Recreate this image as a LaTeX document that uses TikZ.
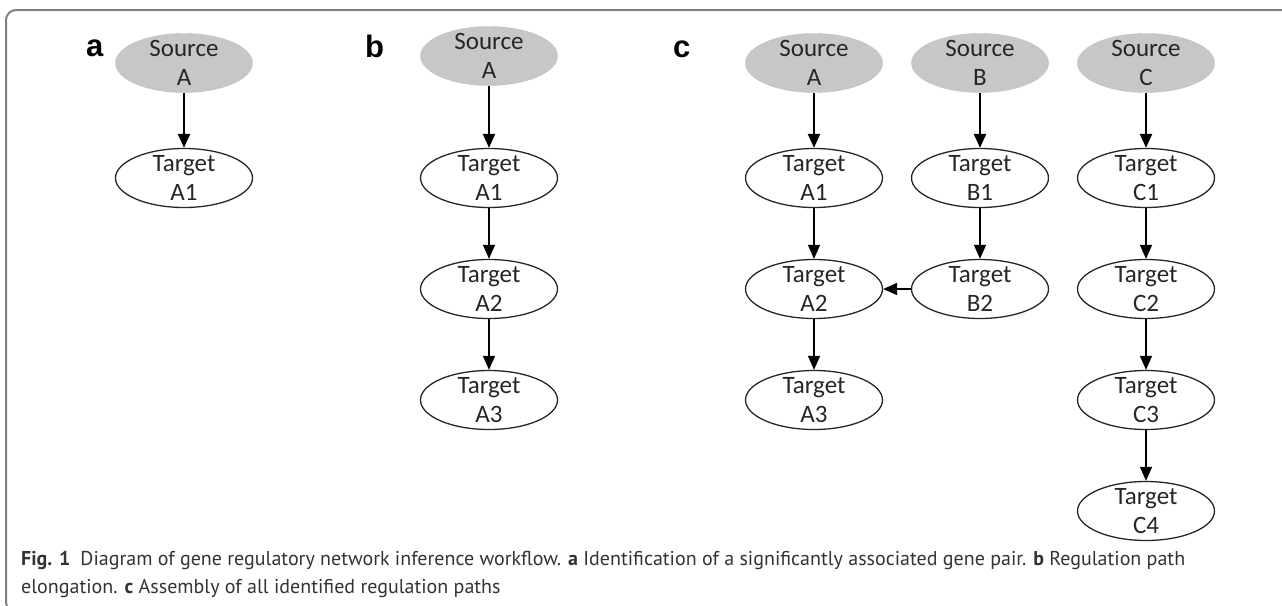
\documentclass[tikz,border=0pt]{standalone}
\usepackage{fontspec}
\setmainfont{PT Sans}
\newfontfamily\nodefont{Carlito}
\newfontfamily\panelfont{Liberation Sans}
\usetikzlibrary{shapes,arrows.meta,positioning}

\begin{document}
\begin{tikzpicture}[x=1pt, y=-1pt, node distance=111pt,
  source/.style={ellipse, draw=black!25, fill=black!22, minimum width=137pt, minimum height=59pt, inner xsep=0pt, inner ysep=-12pt, align=center, text=black!85, font=\nodefont\fontsize{25}{29}\selectfont},
  target/.style={source, draw=black!85, fill=white, line width=1.3pt},
  panel/.style={anchor=base west, inner sep=0pt, font=\panelfont\bfseries\fontsize{31}{31}\selectfont},
  caption/.style={anchor=base west, inner sep=0pt, text=black!80, font=\fontsize{20}{28}\selectfont},
  srcedge/.style={-{Triangle[length=14pt,width=12pt]}, line width=2.4pt},
  pathedge/.style={-{Triangle[length=14pt,width=12pt]}, line width=1.4pt}]
  \useasboundingbox (0,0) rectangle (1282,605);
  \draw[black!50, line width=2pt, rounded corners=10pt] (40,612) -- (6,612) -- (6,10) -- (1290,10);

  % a
  \node[panel] (la) at (86,56) {a};
  \node[source] (sa) at (184,63) {Source\\A};
  \node[target, node distance=115pt, below of=sa] (ta1) {Target\\A1};

  \draw[srcedge] (sa) -- (ta1);

  % b
  \node[panel] (lb) at (365,57) {b};
  \node[source] (sb) at (489,56) {Source\\A};
  \node[target, node distance=122pt, below of=sb] (tb1) {Target\\A1};
  \node[target, below of=tb1] (tb2) {Target\\A2};
  \node[target, below of=tb2] (tb3) {Target\\A3};

  \draw[srcedge] (sb) -- (tb1);
  \draw[pathedge] (tb1) -- (tb2);
  \draw[pathedge] (tb2) -- (tb3);

  % c
  \node[panel] (lc) at (673,57) {c};
  \node[source] (sca) at (814,63) {Source\\A};
  \node[source, node distance=166pt, right of=sca] (scb) {Source\\B};
  \node[source, node distance=166pt, right of=scb] (scc) {Source\\C};
  \node[target, node distance=115pt, below of=sca] (tca1) {Target\\A1};
  \node[target, below of=tca1] (tca2) {Target\\A2};
  \node[target, below of=tca2] (tca3) {Target\\A3};
  \node[target, node distance=115pt, below of=scb] (tcb1) {Target\\B1};
  \node[target, below of=tcb1] (tcb2) {Target\\B2};
  \node[target, node distance=115pt, below of=scc] (tcc1) {Target\\C1};
  \node[target, below of=tcc1] (tcc2) {Target\\C2};
  \node[target, below of=tcc2] (tcc3) {Target\\C3};
  \node[target, below of=tcc3] (tcc4) {Target\\C4};

  \draw[srcedge] (sca) -- (tca1);
  \draw[srcedge] (scb) -- (tcb1);
  \draw[srcedge] (scc) -- (tcc1);
  \draw[pathedge] (tca1) -- (tca2);
  \draw[pathedge] (tca2) -- (tca3);
  \draw[pathedge] (tcb1) -- (tcb2);
  \draw[pathedge] (tcb2) -- (tca2);
  \draw[pathedge] (tcc1) -- (tcc2);
  \draw[pathedge] (tcc2) -- (tcc3);
  \draw[pathedge] (tcc3) -- (tcc4);

  % caption
  \node[caption] (cap1) at (21,565) {\textbf{Fig. 1}\enspace Diagram of gene regulatory network inference workflow. \textbf{a} Identification of a significantly associated gene pair. \textbf{b} Regulation path};
  \node[caption] (cap2) at (21,593) {elongation. \textbf{c} Assembly of all identified regulation paths};
\end{tikzpicture}
\end{document}
